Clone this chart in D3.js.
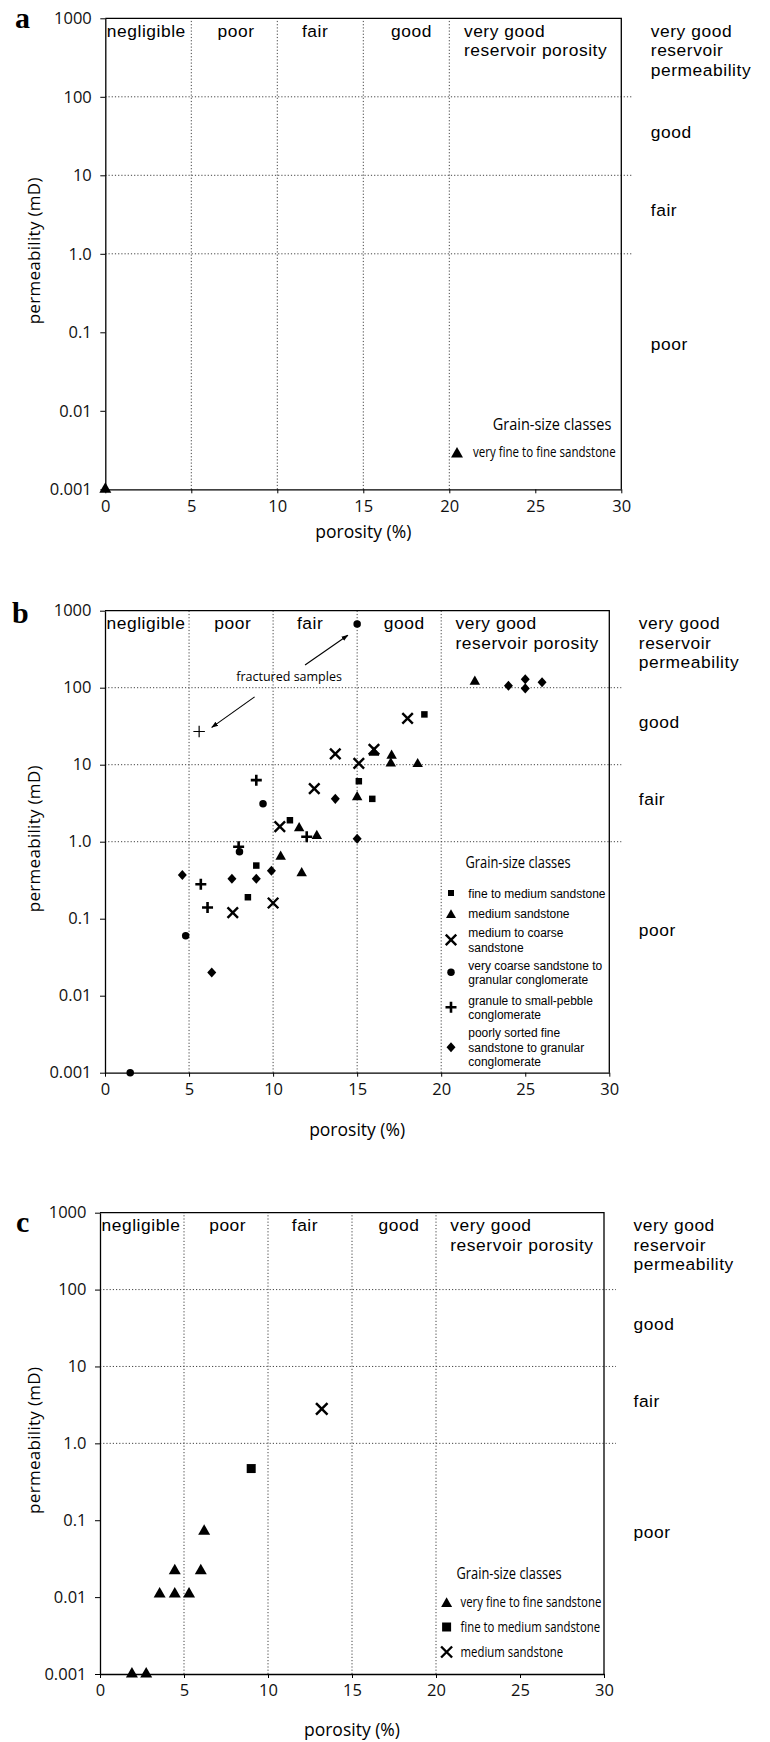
<!DOCTYPE html>
<html><head><meta charset="utf-8">
<script src="https://cdn.jsdelivr.net/npm/d3@7"></script>
<style>body{margin:0;background:#fff} svg{display:block}</style>
</head><body>
<svg id="chart" width="770" height="1742"></svg>
<script>
// ---------- shared axis / category text ----------
const yTickValues = [1000, 100, 10, 1, 0.1, 0.01, 0.001];
const yTickLabels = ["1000", "100", "10", "1.0", "0.1", "0.01", "0.001"];
const xTickValues = [0, 5, 10, 15, 20, 25, 30];
const gridY = [100, 10, 1];
const gridX = [5, 10, 15, 20];
const porosityClassNames = ["negligible", "poor", "fair", "good"];
const porosityClassAt = [0, 7.6, 12.2, 17.8];
const veryGoodPorosity = ["very good", "reservoir porosity"];
const veryGoodPorosityAt = 20.85;
const permClassNames = ["good", "fair", "poor"];
const permClassAt = [35.5, 3.6, 0.071];
const veryGoodPerm = ["very good", "reservoir", "permeability"];

// ---------- panel a ----------
const aVeryFineSand = [[0, 0.001]];
const aLegend = [["very fine to fine sandstone"]];

// ---------- panel b ----------
const bFineMedSand = [[19.0, 45], [15.1, 6.1], [15.9, 3.6], [11.0, 1.9], [9.0, 0.49], [8.5, 0.19]];
const bMedSand = [[22.0, 120], [16.0, 14.3], [17.05, 13.1], [17.0, 10.4], [18.6, 10.2], [15.0, 3.8], [11.55, 1.5], [12.6, 1.19], [10.45, 0.64], [11.7, 0.39]];
const bMedCoarseSand = [[18.0, 40], [13.7, 13.8], [15.1, 10.4], [16.0, 15.8], [12.45, 4.9], [10.4, 1.57], [10.0, 0.16], [7.6, 0.12]];
const bVeryCoarse = [[15.0, 670], [9.4, 3.1], [8.0, 0.74], [4.8, 0.06], [1.5, 0.001]];
const bGranule = [[9.0, 6.3], [12.0, 1.16], [7.95, 0.86], [5.7, 0.28], [6.1, 0.14]];
const bGranuleFractured = [[5.6, 27]];
const bPoorlySorted = [[24.0, 106], [25.0, 129], [25.0, 98], [26.0, 118], [13.7, 3.6], [15.0, 1.09], [9.9, 0.42], [4.6, 0.37], [7.55, 0.33], [9.0, 0.33], [6.35, 0.02]];
const bLegend = [["fine to medium sandstone"], ["medium sandstone"], ["medium to coarse", "sandstone"], ["very coarse sandstone to", "granular conglomerate"], ["granule to small-pebble", "conglomerate"], ["poorly sorted fine", "sandstone to granular", "conglomerate"]];
const bAnnotation = "fractured samples";
const bAnnotationAt = [10.95, 138];
const bArrows = [[[8.9, 76], [6.35, 30.5]], [[11.9, 197], [14.45, 480]]];

// ---------- panel c ----------
const cVeryFineSand = [[1.9, 0.001], [2.75, 0.001], [3.55, 0.011], [4.45, 0.011], [5.3, 0.011], [4.45, 0.022], [6.0, 0.022], [6.2, 0.072]];
const cFineMedSand = [[9.0, 0.47]];
const cMedSand = [[13.2, 2.8]];
const cLegend = [["very fine to fine sandstone"], ["fine to medium sandstone"], ["medium sandstone"]];

const legendTitle = "Grain-size classes";
const FONT = "'Open Sans', 'Noto Sans', sans-serif";
const NARROW = "'Liberation Sans', Arial, sans-serif";

// ---------- layout ----------
const panels = [
  { letter: "a", L: 105.3, R: 621.3, T: 18.3, B: 489.3, letterX: 15, letterY: 28.3, xTitleDy: 43,
    series: [{ data: aVeryFineSand, type: "triangle", size: 12 }],
    legend: { titleX: 552, titleY: 424, titleScale: 0.88, mx: 457, tx: 473, font: FONT, scale: 0.77, fs: 15, lh: 14.5,
      items: [{ lines: aLegend[0], y: 452, type: "triangle", size: 12 }] } },
  { letter: "b", L: 105, R: 609.3, T: 610.7, B: 1072.7, letterX: 12, letterY: 623.3, xTitleDy: 57,
    series: [
      { data: bFineMedSand, type: "square", size: 6.5 },
      { data: bMedSand, type: "triangle", size: 10.5 },
      { data: bMedCoarseSand, type: "x", size: 10.5, sw: 2.4 },
      { data: bVeryCoarse, type: "circle", size: 7.5 },
      { data: bGranule, type: "plus", size: 11, sw: 2.6 },
      { data: bGranuleFractured, type: "plus", size: 11.5, sw: 1.2 },
      { data: bPoorlySorted, type: "diamond", size: 9 }],
    legend: { titleX: 518, titleY: 862, titleScale: 0.78, mx: 451, tx: 468.3, font: NARROW, scale: 0.93, fs: 12.9, lh: 14.5,
      items: [
        { lines: bLegend[0], y: 893, type: "square", size: 6 },
        { lines: bLegend[1], y: 913, type: "triangle", size: 10 },
        { lines: bLegend[2], y: 932.7, type: "x", size: 10.5, sw: 2.4 },
        { lines: bLegend[3], y: 965, type: "circle", size: 7.5 },
        { lines: bLegend[4], y: 1000, type: "plus", size: 11, sw: 2.6 },
        { lines: bLegend[5], y: 1032.7, type: "diamond", size: 9 }] } },
  { letter: "c", L: 100, R: 604, T: 1212.7, B: 1674, letterX: 16, letterY: 1232.3, xTitleDy: 56,
    series: [
      { data: cVeryFineSand, type: "triangle", size: 12 },
      { data: cFineMedSand, type: "square", size: 9 },
      { data: cMedSand, type: "x", size: 11.5, sw: 2.5 }],
    legend: { titleX: 509, titleY: 1573.6, titleScale: 0.78, mx: 446.6, tx: 460.5, font: FONT, scale: 0.76, fs: 15, lh: 14.5,
      items: [
        { lines: cLegend[0], y: 1601.8, type: "triangle", size: 11 },
        { lines: cLegend[1], y: 1627, type: "square", size: 9 },
        { lines: cLegend[2], y: 1652, type: "x", size: 11, sw: 2.4 }] } }
];

function markerPath(type, s) {
  const p = d3.path();
  if (type === "square") { p.rect(-s / 2, -s / 2, s, s); }
  else if (type === "triangle") { const h = s * 0.88; p.moveTo(0, -2 * h / 3); p.lineTo(s / 2, h / 3); p.lineTo(-s / 2, h / 3); p.closePath(); }
  else if (type === "diamond") { const h = s * 0.56; p.moveTo(0, -h); p.lineTo(s / 2, 0); p.lineTo(0, h); p.lineTo(-s / 2, 0); p.closePath(); }
  else if (type === "circle") { p.moveTo(s / 2, 0); p.arc(0, 0, s / 2, 0, 2 * Math.PI); }
  else if (type === "x") { p.moveTo(-s / 2, -s / 2); p.lineTo(s / 2, s / 2); p.moveTo(s / 2, -s / 2); p.lineTo(-s / 2, s / 2); }
  else if (type === "plus") { p.moveTo(-s / 2, 0); p.lineTo(s / 2, 0); p.moveTo(0, -s / 2); p.lineTo(0, s / 2); }
  return p.toString();
}
function styleMarker(sel, type, sw) {
  if (type === "x" || type === "plus") sel.attr("fill", "none").attr("stroke", "#000").attr("stroke-width", sw || 2.4);
  else sel.attr("fill", "#000").attr("stroke", "none");
}
// one <text> element holding several stacked lines
function multiLine(parent, xPos, yPos, lines, lh) {
  const t = parent.append("text").attr("x", xPos).attr("y", yPos);
  t.selectAll("tspan").data(lines).join("tspan")
    .attr("x", xPos).attr("dy", (d, i) => i === 0 ? "0.35em" : lh).text(d => d);
  return t;
}

const svg = d3.select("#chart");
svg.append("defs").append("marker")
  .attr("id", "arrowhead").attr("viewBox", "0 0 10 10").attr("refX", 9).attr("refY", 5)
  .attr("markerWidth", 7).attr("markerHeight", 7).attr("markerUnits", "userSpaceOnUse").attr("orient", "auto")
  .append("path").attr("d", "M0,1.5 L10,5 L0,8.5 Z").attr("fill", "#000");

panels.forEach(P => {
  const g = svg.append("g");
  const x = d3.scaleLinear().domain([0, 30]).range([P.L, P.R]);
  const y = d3.scaleLog().domain([0.001, 1000]).range([P.B, P.T]);

  // grid
  g.append("g").selectAll("line.gy").data(gridY).join("line")
    .attr("x1", P.L).attr("x2", P.R + 12).attr("y1", d => y(d)).attr("y2", d => y(d))
    .attr("stroke", "#444").attr("stroke-width", 1).attr("stroke-dasharray", "1.2,2");
  g.append("g").selectAll("line.gx").data(gridX).join("line")
    .attr("x1", d => x(d)).attr("x2", d => x(d)).attr("y1", P.B).attr("y2", P.T)
    .attr("stroke", "#444").attr("stroke-width", 1).attr("stroke-dasharray", "1.2,2");

  // frame
  g.append("path").attr("d", `M${P.L},${P.T}H${P.R}V${P.B}`).attr("fill", "none").attr("stroke", "#000").attr("stroke-width", 1.3);

  // axes
  const ya = g.append("g").attr("transform", `translate(${P.L},0)`)
    .call(d3.axisLeft(y).tickValues(yTickValues).tickFormat((d, i) => yTickLabels[i]).tickSize(5).tickSizeOuter(0).tickPadding(8.5));
  const xa = g.append("g").attr("transform", `translate(0,${P.B})`)
    .call(d3.axisBottom(x).tickValues(xTickValues).tickFormat(d3.format("d")).tickSize(4).tickSizeOuter(0).tickPadding(6.6));
  [ya, xa].forEach(a => {
    a.attr("font-family", FONT).attr("font-size", 16.5);
    a.select(".domain").attr("stroke-width", 1.3);
    a.selectAll(".tick line").attr("stroke-width", 1);
    a.selectAll("text").attr("fill", "#111");
  });

  // panel letter
  g.append("text").attr("x", P.letterX).attr("y", P.letterY).text(P.letter)
    .attr("font-family", "'Liberation Serif', 'DejaVu Serif', serif").attr("font-weight", "bold").attr("font-size", 30);

  // axis titles
  g.append("text").attr("transform", `translate(34,${(P.T + P.B) / 2 - 3}) rotate(-90)`)
    .attr("text-anchor", "middle").attr("dy", "0.35em").attr("font-family", FONT).attr("font-size", 17)
    .attr("letter-spacing", 0.3).text("permeability (mD)");
  g.append("text").attr("x", (P.L + P.R) / 2).attr("y", P.B + P.xTitleDy).attr("dy", "0.35em")
    .attr("text-anchor", "middle").attr("font-family", FONT).attr("font-size", 17.5).text("porosity (%)");

  // porosity class labels
  const cl = g.append("g").attr("font-family", NARROW).attr("font-size", 17.4).attr("letter-spacing", 0.55);
  cl.selectAll("text.pc").data(porosityClassNames).join("text")
    .attr("x", (d, i) => i === 0 ? P.L + 1.5 : x(porosityClassAt[i]))
    .attr("text-anchor", (d, i) => i === 0 ? "start" : "middle")
    .attr("y", P.T + 12.3).attr("dy", "0.35em").text(d => d);
  multiLine(cl, x(veryGoodPorosityAt), P.T + 12.3, veryGoodPorosity, 19.5);

  // permeability class labels (right)
  multiLine(cl, P.R + 29.5, P.T + 12.3, veryGoodPerm, 19.5);
  cl.selectAll("text.pp").data(permClassNames).join("text")
    .attr("x", P.R + 29.5).attr("y", (d, i) => y(permClassAt[i])).attr("dy", "0.35em").text(d => d);

  // data
  P.series.forEach(s => {
    g.append("g").selectAll("path").data(s.data).join("path")
      .attr("transform", d => `translate(${x(d[0])},${y(d[1])})`)
      .attr("d", markerPath(s.type, s.size))
      .call(sel => styleMarker(sel, s.type, s.sw));
  });

  // annotation (panel b)
  if (P.letter === "b") {
    g.append("text").attr("x", x(bAnnotationAt[0])).attr("y", y(bAnnotationAt[1])).attr("dy", "0.35em")
      .attr("text-anchor", "middle").attr("font-family", FONT).attr("font-size", 12.5).text(bAnnotation);
    g.append("g").selectAll("line").data(bArrows).join("line")
      .attr("x1", d => x(d[0][0])).attr("y1", d => y(d[0][1]))
      .attr("x2", d => x(d[1][0])).attr("y2", d => y(d[1][1]))
      .attr("stroke", "#000").attr("stroke-width", 1.1).attr("marker-end", "url(#arrowhead)");
  }

  // legend
  const Lg = P.legend;
  g.append("text").attr("transform", `translate(${Lg.titleX},${Lg.titleY}) scale(${Lg.titleScale},1)`)
    .attr("text-anchor", "middle").attr("dy", "0.35em").attr("font-family", FONT).attr("font-size", 16.5).text(legendTitle);
  Lg.items.forEach(it => {
    const n = it.lines.length;
    const my = it.y + (n - 1) * Lg.lh / 2 + (it.type === "triangle" ? 2 : 0);
    g.append("path").attr("transform", `translate(${Lg.mx},${my})`).attr("d", markerPath(it.type, it.size))
      .call(sel => styleMarker(sel, it.type, it.sw));
    const tg = g.append("g").attr("transform", `translate(${Lg.tx},${it.y}) scale(${Lg.scale},1)`)
      .attr("font-family", Lg.font).attr("font-size", Lg.fs);
    multiLine(tg, 0, 0, it.lines, Lg.lh);
  });
});
</script>
</body></html>
